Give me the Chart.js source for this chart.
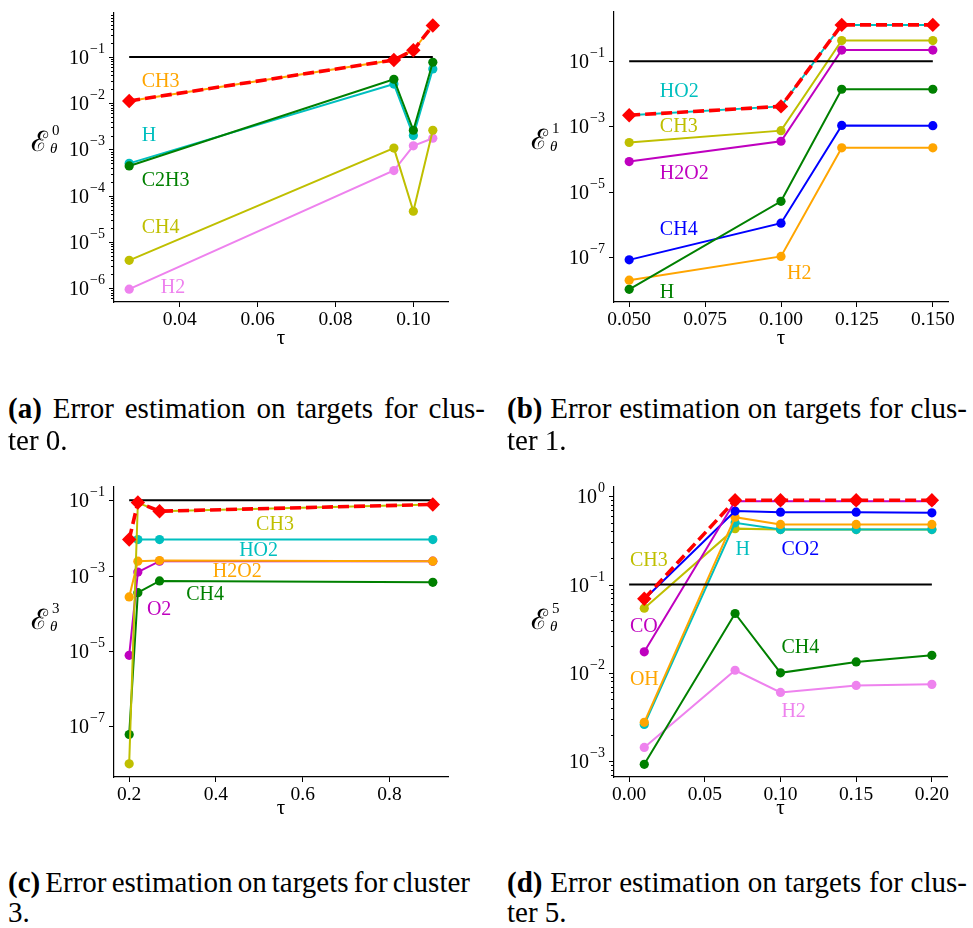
<!DOCTYPE html>
<html>
<head>
<meta charset="utf-8">
<script src="https://cdn.jsdelivr.net/npm/chart.js@4.4.0/dist/chart.umd.min.js"></script>
<style>
    body { margin: 0; background: #fff; width: 973px; height: 928px; position: relative; overflow: hidden; font-family: 'Liberation Serif', serif; }
    canvas { position: absolute; }
    .cap { position: absolute; font-size: 29px; white-space: nowrap; line-height: 30px; color: #000; }
    .ylab { position: absolute; font: 28px 'DejaVu Serif', serif; line-height: 28px; }
    .ylab .sup { position: absolute; left: 21px; top: -6px; font: 15px 'Liberation Serif', serif; }
    .ylab .sub { position: absolute; left: 19px; top: 12px; font: italic 15px 'Liberation Serif', serif; }
</style>
</head>
<body>
<canvas id="c0" width="480" height="355" style="left:0;top:0"></canvas>
<canvas id="c1" width="483" height="355" style="left:490px;top:0"></canvas>
<canvas id="c3" width="480" height="355" style="left:0;top:470px"></canvas>
<canvas id="c5" width="483" height="355" style="left:490px;top:470px"></canvas>

<div class="ylab" style="left:31px;top:128px">ℰ<span class="sup">0</span><span class="sub">θ</span></div>
<div class="ylab" style="left:531px;top:126px">ℰ<span class="sup">1</span><span class="sub">θ</span></div>
<div class="ylab" style="left:31px;top:606px">ℰ<span class="sup">3</span><span class="sub">θ</span></div>
<div class="ylab" style="left:531px;top:606px">ℰ<span class="sup">5</span><span class="sub">θ</span></div>

<div class="cap" data-w="477" style="left:8px;top:393px"><b>(a)</b> Error estimation on targets for clus-</div>
<div class="cap" style="left:8px;top:425px">ter 0.</div>
<div class="cap" data-w="460" style="left:507px;top:393px"><b>(b)</b> Error estimation on targets for clus-</div>
<div class="cap" style="left:507px;top:425px">ter 1.</div>
<div class="cap" data-w="462" style="left:8px;top:867px"><b>(c)</b> Error estimation on targets for cluster</div>
<div class="cap" style="left:8px;top:897px">3.</div>
<div class="cap" data-w="460" style="left:507px;top:867px"><b>(d)</b> Error estimation on targets for clus-</div>
<div class="cap" style="left:507px;top:897px">ter 5.</div>

<script>
// seuil commun
const threshold = 0.1;

// (a) cluster 0
const tau0 = [0.027, 0.095, 0.100, 0.105];
const c0_max = [0.0112, 0.086, 0.14, 0.48];
const c0_CH3 = [0.0112, 0.086, 0.14, 0.48];
const c0_H = [5.0e-4, 0.026, 2.0e-3, 0.055];
const c0_C2H3 = [4.4e-4, 0.033, 2.6e-3, 0.077];
const c0_CH4 = [4.0e-6, 1.07e-3, 4.6e-5, 2.6e-3];
const c0_H2 = [9.5e-7, 3.5e-4, 1.2e-3, 1.75e-3];
const c0_xticks = [0.04, 0.06, 0.08, 0.10];
const c0_yticks = [-6, -5, -4, -3, -2, -1];

// (b) cluster 1
const tau1 = [0.05, 0.10, 0.12, 0.15];
const c1_max = [2.2e-3, 4.1e-3, 1.3, 1.3];
const c1_HO2 = [2.2e-3, 4.1e-3, 1.3, 1.3];
const c1_CH3 = [3.2e-4, 7.4e-4, 0.43, 0.43];
const c1_H2O2 = [8.3e-5, 3.5e-4, 0.22, 0.22];
const c1_CH4 = [8e-8, 1.07e-6, 1.07e-3, 1.05e-3];
const c1_H = [1e-8, 5e-6, 0.0138, 0.0138];
const c1_H2 = [1.9e-8, 1.02e-7, 2.2e-4, 2.2e-4];
const c1_xticks = [0.050, 0.075, 0.100, 0.125, 0.150];
const c1_yticks = [-7, -5, -3, -1];

// (c) cluster 3
const tau3 = [0.20, 0.22, 0.27, 0.90];
const c3_max = [9e-3, 0.087, 0.051, 0.077];
const c3_CH3 = [1e-8, 0.085, 0.051, 0.077];
const c3_HO2 = [9e-3, 9e-3, 9e-3, 9e-3];
const c3_H2O2 = [2.7e-4, 2.4e-3, 2.5e-3, 2.4e-3];
const c3_O2 = [7.6e-6, 1.23e-3, 2.4e-3, 2.4e-3];
const c3_CH4 = [6e-8, 3.5e-4, 7.2e-4, 6.6e-4];
const c3_xticks = [0.2, 0.4, 0.6, 0.8];
const c3_yticks = [-7, -5, -3, -1];

// (d) cluster 5
const tau5 = [0.01, 0.07, 0.10, 0.15, 0.20];
const c5_max = [0.069, 0.9, 0.9, 0.9, 0.9];
const c5_CO = [0.0173, 0.88, 0.88, 0.88, 0.88];
const c5_CO2 = [0.068, 0.68, 0.66, 0.66, 0.65];
const c5_OH = [2.75e-3, 0.58, 0.48, 0.48, 0.48];
const c5_H = [2.6e-3, 0.50, 0.42, 0.42, 0.42];
const c5_CH3 = [0.054, 0.43, 0.42, 0.42, 0.42];
const c5_CH4 = [9.2e-4, 0.047, 0.010, 0.0133, 0.0158];
const c5_H2 = [1.43e-3, 0.0107, 6.0e-3, 7.2e-3, 7.4e-3];
const c5_thrX = [0.0, 0.20];
const c5_xticks = [0.00, 0.05, 0.10, 0.15, 0.20];
const c5_yticks = [-3, -2, -1, 0];

// couleurs matplotlib
const COL = { c: '#00bfbf', g: '#008000', y: '#bfbf00', m: '#bf00bf', b: '#0000ff', orange: '#ffa500', violet: '#ee82ee', r: '#ff0000', k: '#000000' };

function pts(xs, ys) { return xs.map((x, i) => ({ x: x, y: ys[i] })); }

function serie(xs, ys, color) {
    return { data: pts(xs, ys), borderColor: color, backgroundColor: color, borderWidth: 2,
        pointRadius: 4.6, pointHoverRadius: 4.6, pointBorderWidth: 0, tension: 0 };
}
function serieMax(xs, ys) {
    return { data: pts(xs, ys), borderColor: COL.r, backgroundColor: COL.r, borderWidth: 3.6,
        borderDash: [11, 5], pointStyle: 'rectRot', pointRadius: 7.2, pointHoverRadius: 7.2, pointBorderWidth: 0 };
}
function serieSeuil(xs) {
    return { data: xs.map(x => ({ x: x, y: threshold })), borderColor: COL.k, borderWidth: 2, pointRadius: 0 };
}

// ticks log dessinés à la main (10^n avec exposant)
const logTicks = {
    id: 'logTicks',
    afterDraw(chart, args, opts) {
        const ctx = chart.ctx, ys = chart.scales.y, L = chart.chartArea.left;
        ctx.save();
        ctx.strokeStyle = '#000';
        ctx.fillStyle = '#000';
        ctx.lineWidth = 1;
        opts.majors.forEach(e => {
            const py = Math.round(ys.getPixelForValue(Math.pow(10, e))) + 0.5;
            ctx.beginPath(); ctx.moveTo(L - 5, py); ctx.lineTo(L, py); ctx.stroke();
            ctx.textBaseline = 'middle';
            ctx.textAlign = 'right';
            ctx.font = '14px "Liberation Serif"';
            const ex = e < 0 ? '\u2212' + (-e) : String(e);
            const ew = ctx.measureText(ex).width;
            ctx.fillText(ex, L - 9, py - 8);
            ctx.font = '20px "Liberation Serif"';
            ctx.fillText('10', L - 10 - ew, py + 1);
        });
        if (opts.minor) {
            const lo = Math.floor(Math.log10(ys.min)), hi = Math.ceil(Math.log10(ys.max));
            for (let e = lo; e <= hi; e++) {
                for (let k = 2; k <= 9; k++) {
                    const v = k * Math.pow(10, e);
                    if (v < ys.min || v > ys.max) continue;
                    const py = Math.round(ys.getPixelForValue(v)) + 0.5;
                    ctx.beginPath(); ctx.moveTo(L - 3, py); ctx.lineTo(L, py); ctx.stroke();
                }
            }
        }
        ctx.restore();
    }
};

// noms des espèces
const speciesText = {
    id: 'speciesText',
    afterDatasetsDraw(chart, args, opts) {
        const ctx = chart.ctx, xs = chart.scales.x, ys = chart.scales.y;
        ctx.save();
        ctx.font = '20px "Liberation Serif"';
        ctx.textAlign = 'left';
        ctx.textBaseline = 'middle';
        opts.items.forEach(it => {
            ctx.fillStyle = it.color;
            ctx.fillText(it.text, xs.getPixelForValue(it.x), ys.getPixelForValue(it.y));
        });
        ctx.restore();
    }
};

function makeChart(id, datasets, box, xCfg, yCfg, items) {
    return new Chart(document.getElementById(id), {
        type: 'line',
        data: { datasets: datasets },
        plugins: [logTicks, speciesText],
        options: {
            responsive: false,
            animation: false,
            events: [],
            layout: { padding: { left: 0, right: box.padR, top: box.padT, bottom: 0 } },
            elements: { line: { fill: false } },
            datasets: { line: { clip: false } },
            plugins: {
                legend: { display: false },
                tooltip: { enabled: false },
                logTicks: { majors: yCfg.majors, minor: yCfg.minor },
                speciesText: { items: items }
            },
            scales: {
                x: {
                    type: 'linear', bounds: 'data', min: xCfg.min, max: xCfg.max,
                    afterBuildTicks: s => { s.ticks = xCfg.ticks.map(v => ({ value: v })); },
                    afterFit: s => { s.height = box.xH; },
                    grid: { drawOnChartArea: false, drawTicks: true, tickLength: 5, color: '#000', tickWidth: 1 },
                    border: { display: true, color: '#000', width: 1.2 },
                    ticks: { color: '#000', padding: 1, maxRotation: 0, autoSkip: false,
                        font: { family: 'Liberation Serif', size: 19.5 },
                        callback: v => v.toFixed(xCfg.dec) },
                    title: { display: true, text: 'τ', color: '#000', padding: { top: 0, bottom: 4 },
                        font: { family: 'Liberation Serif', size: 21 } }
                },
                y: {
                    type: 'logarithmic', min: yCfg.min, max: yCfg.max,
                    afterFit: s => { s.width = box.yW; },
                    grid: { display: false },
                    border: { display: true, color: '#000', width: 1.2 },
                    ticks: { display: false }
                }
            }
        }
    });
}

document.addEventListener('DOMContentLoaded', function () {
    // légendes justifiées : on ajuste l'espacement des mots pour tenir la largeur
    document.querySelectorAll('.cap[data-w]').forEach(el => {
        const target = parseFloat(el.dataset.w);
        const nSpaces = (el.textContent.match(/ /g) || []).length;
        const w = el.getBoundingClientRect().width;
        el.style.wordSpacing = ((target - w) / nSpaces) + 'px';
    });

    // (a)
    makeChart('c0', [
        serieMax(tau0, c0_max),
        serieSeuil([tau0[0], tau0[tau0.length - 1]]),
        serie(tau0, c0_CH3, COL.orange),
        serie(tau0, c0_C2H3, COL.g),
        serie(tau0, c0_H, COL.c),
        serie(tau0, c0_CH4, COL.y),
        serie(tau0, c0_H2, COL.violet)
    ], { padR: 32, padT: 13, xH: 53, yW: 114 },
    { min: 0.0231, max: 0.1089, ticks: c0_xticks, dec: 2 },
    { min: Math.pow(10, -6.30), max: Math.pow(10, -0.048), majors: c0_yticks, minor: true },
    [
        { text: 'CH3', x: 0.0302, y: 0.0292, color: COL.orange },
        { text: 'H', x: 0.0302, y: 2.0e-3, color: COL.c },
        { text: 'C2H3', x: 0.0302, y: 2.1e-4, color: COL.g },
        { text: 'CH4', x: 0.0302, y: 2.0e-5, color: COL.y },
        { text: 'H2', x: 0.0351, y: 1.0e-6, color: COL.violet }
    ]);

    // (b)
    makeChart('c1', [
        serieMax(tau1, c1_max),
        serieSeuil([tau1[0], tau1[tau1.length - 1]]),
        serie(tau1, c1_HO2, COL.c),
        serie(tau1, c1_CH3, COL.y),
        serie(tau1, c1_H2O2, COL.m),
        serie(tau1, c1_H, COL.g),
        serie(tau1, c1_CH4, COL.b),
        serie(tau1, c1_H2, COL.orange)
    ], { padR: 25, padT: 12, xH: 53, yW: 124 },
    { min: 0.045, max: 0.155, ticks: c1_xticks, dec: 3 },
    { min: Math.pow(10, -8.39), max: Math.pow(10, 0.51), majors: c1_yticks, minor: false },
    [
        { text: 'HO2', x: 0.0601, y: 0.0112, color: COL.c },
        { text: 'CH3', x: 0.0601, y: 9.8e-4, color: COL.y },
        { text: 'H2O2', x: 0.0601, y: 3.4e-5, color: COL.m },
        { text: 'CH4', x: 0.0601, y: 6.6e-7, color: COL.b },
        { text: 'H2', x: 0.102, y: 3.1e-8, color: COL.orange },
        { text: 'H', x: 0.0601, y: 7.9e-9, color: COL.g }
    ]);

    // (c)
    makeChart('c3', [
        serieMax(tau3, c3_max),
        serieSeuil([tau3[0], tau3[tau3.length - 1]]),
        serie(tau3, c3_CH3, COL.y),
        serie(tau3, c3_HO2, COL.c),
        serie(tau3, c3_H2O2, COL.orange),
        serie(tau3, c3_O2, COL.m),
        serie(tau3, c3_CH4, COL.g)
    ], { padR: 32, padT: 17, xH: 48, yW: 114 },
    { min: 0.165, max: 0.935, ticks: c3_xticks, dec: 1 },
    { min: Math.pow(10, -8.35), max: Math.pow(10, -0.65), majors: c3_yticks, minor: false },
    [
        { text: 'CH3', x: 0.4926, y: 0.0226, color: COL.y },
        { text: 'HO2', x: 0.4535, y: 4.5e-3, color: COL.c },
        { text: 'H2O2', x: 0.3928, y: 1.25e-3, color: COL.orange },
        { text: 'CH4', x: 0.3313, y: 3.0e-4, color: COL.g },
        { text: 'O2', x: 0.2408, y: 1.2e-4, color: COL.m }
    ]);

    // (d)
    makeChart('c5', [
        serieMax(tau5, c5_max),
        serieSeuil(c5_thrX),
        serie(tau5, c5_CO, COL.m),
        serie(tau5, c5_CO2, COL.b),
        serie(tau5, c5_OH, COL.orange),
        serie(tau5, c5_H, COL.c),
        serie(tau5, c5_CH3, COL.y),
        serie(tau5, c5_CH4, COL.g),
        serie(tau5, c5_H2, COL.violet)
    ], { padR: 26, padT: 17, xH: 48, yW: 124 },
    { min: -0.01, max: 0.21, ticks: c5_xticks, dec: 2 },
    { min: Math.pow(10, -3.18), max: Math.pow(10, 0.105), majors: c5_yticks, minor: true },
    [
        { text: 'CH3', x: 0.0005, y: 0.185, color: COL.y },
        { text: 'CO', x: 0.0005, y: 0.033, color: COL.m },
        { text: 'OH', x: 0.0005, y: 8.4e-3, color: COL.orange },
        { text: 'H', x: 0.0702, y: 0.245, color: COL.c },
        { text: 'CO2', x: 0.1006, y: 0.245, color: COL.b },
        { text: 'CH4', x: 0.1006, y: 0.0194, color: COL.g },
        { text: 'H2', x: 0.1006, y: 3.6e-3, color: COL.violet }
    ]);
});
</script>
</body>
</html>
